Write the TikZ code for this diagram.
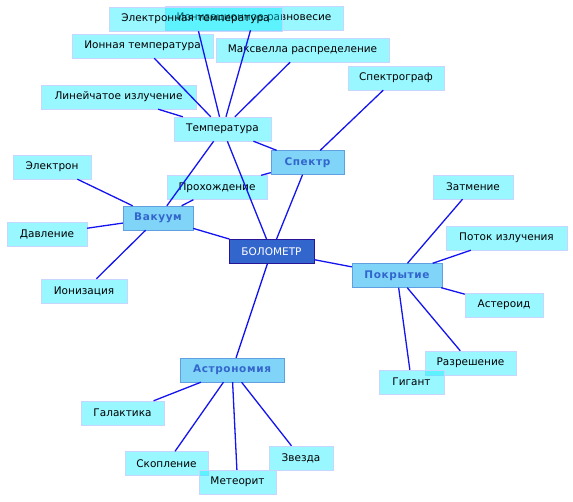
\documentclass[tikz,border=0pt]{standalone}
\usepackage{fontspec}
\setmainfont{DejaVu Sans}
\newfontfamily\topicfont[LetterSpace=6]{DejaVu Sans}

\definecolor{leaffill}{RGB}{0,236,255}
\definecolor{leafline}{RGB}{200,214,255}
\definecolor{topicfill}{RGB}{128,212,248}
\definecolor{topicline}{RGB}{96,160,224}
\definecolor{topictext}{RGB}{51,102,204}
\definecolor{rootfill}{RGB}{51,102,204}
\definecolor{rootline}{RGB}{40,20,150}
\definecolor{linkblue}{RGB}{20,20,240}

\begin{document}
\begin{tikzpicture}[
    x=1pt, y=-1pt,
    box/.style={rectangle, minimum height=24pt, inner xsep=0pt, font=\fontsize{10.5}{12}\selectfont},
    leaf/.style={box, draw=leafline, fill=leaffill, fill opacity=0.4, text opacity=1},
    topic/.style={box, draw=topicline, fill=topicfill, text=topictext, font=\topicfont\bfseries\fontsize{10.5}{12}\selectfont},
    root/.style={box, draw=rootline, fill=rootfill, text=white, thick},
    link/.style={draw=linkblue, line width=1.3pt},
  ]
  \useasboundingbox (0,0) rectangle (573,501);

  % Centre and main topics
  \node[root,  minimum width=85pt]  (bolo)  at (271.5,251.5) {БОЛОМЕТР};
  \node[leaf,  minimum width=97pt]  (temp)  at (222.5,129)   {Температура};
  \node[topic, minimum width=73pt]  (spec)  at (307.5,162.5) {Спектр};
  \node[topic, minimum width=70pt]  (vac)   at (158,218)     {Вакуум};
  \node[topic, minimum width=90pt]  (cover) at (397,275.5)   {Покрытие};
  \node[topic, minimum width=104pt] (astro) at (232,370)     {Астрономия};

  % Temperature leaves
  \node[leaf, minimum width=178pt] (ionbal)  at (254,18)    {Ионизационное равновесие};
  \node[leaf, minimum width=173pt] (eltemp)  at (195.5,19)  {Электронная температура};
  \node[leaf, minimum width=141pt] (iontemp) at (142.5,46)  {Ионная температура};
  \node[leaf, minimum width=173pt] (maxw)    at (302.5,50)  {Максвелла распределение};
  \node[leaf, minimum width=155pt] (lines)   at (118.5,97)  {Линейчатое излучение};

  % Spectrum and vacuum leaves
  \node[leaf, minimum width=96pt]  (sgraph) at (396,78)    {Спектрограф};
  \node[leaf, minimum width=100pt] (pass)   at (217,187.5) {Прохождение};
  \node[leaf, minimum width=78pt]  (elec)   at (52,167)    {Электрон};
  \node[leaf, minimum width=80pt]  (press)  at (47,234)    {Давление};
  \node[leaf, minimum width=86pt]  (ioniz)  at (84,291)    {Ионизация};

  % Coverage leaves
  \node[leaf, minimum width=80pt]  (eclipse) at (473,187)   {Затмение};
  \node[leaf, minimum width=121pt] (flux)    at (506.5,238) {Поток излучения};
  \node[leaf, minimum width=78pt]  (aster)   at (504,305)   {Астероид};
  \node[leaf, minimum width=91pt]  (resol)   at (470.5,363) {Разрешение};
  \node[leaf, minimum width=65pt]  (giant)   at (411.5,382) {Гигант};

  % Astronomy leaves
  \node[leaf, minimum width=83pt] (galaxy)  at (122.5,413)   {Галактика};
  \node[leaf, minimum width=83pt] (cluster) at (166.5,463.5) {Скопление};
  \node[leaf, minimum width=77pt] (meteor)  at (237.5,482)   {Метеорит};
  \node[leaf, minimum width=64pt] (star)    at (301,458)     {Звезда};

  % Links
  \foreach \n in {temp,spec,vac,cover,astro}
    \draw[link] (bolo) -- (\n);
  \foreach \n in {ionbal,eltemp,iontemp,maxw,lines,spec,vac}
    \draw[link] (temp) -- (\n);
  \foreach \n in {sgraph,pass}
    \draw[link] (spec) -- (\n);
  \foreach \n in {pass,elec,press,ioniz}
    \draw[link] (vac) -- (\n);
  \foreach \n in {eclipse,flux,aster,resol,giant}
    \draw[link] (cover) -- (\n);
  \foreach \n in {galaxy,cluster,meteor,star}
    \draw[link] (astro) -- (\n);
\end{tikzpicture}
\end{document}
